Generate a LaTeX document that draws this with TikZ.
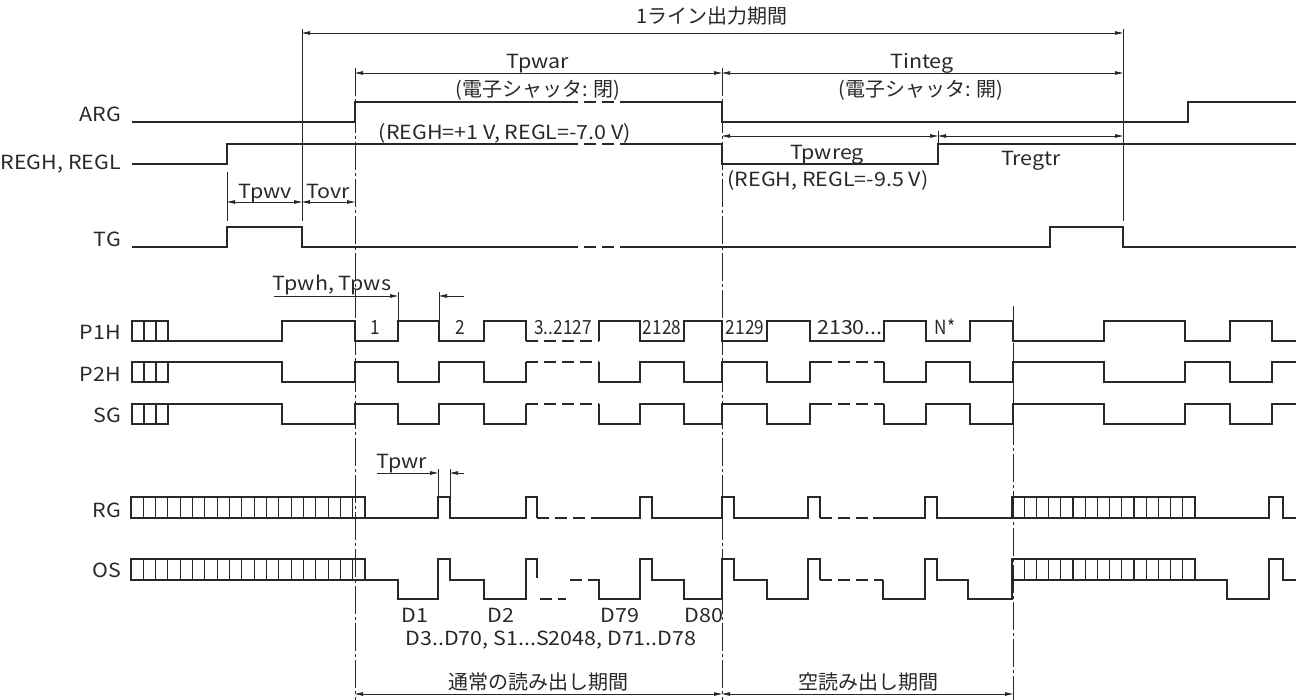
\documentclass[tikz,border=0pt]{standalone}
\usepackage{fontspec}
\setmainfont[FakeStretch=1.1]{Noto Sans CJK JP}
\newfontfamily\jpfont{Noto Sans CJK JP}
\newfontfamily\numfont[FakeStretch=0.88]{Noto Sans CJK JP}
\usetikzlibrary{arrows.meta}
\definecolor{sigc}{RGB}{40,40,40}
\begin{document}
\begin{tikzpicture}[x=1pt,y=-1pt,
 sig/.style={line width=1.4pt,draw=sigc,line join=miter},
 dsig/.style={line width=1.4pt,draw=sigc,dash pattern=on 12pt off 6pt},
 ddot/.style={line width=0.8pt,draw=sigc,dash pattern=on 28pt off 3pt on 3pt off 3pt},
 vl/.style={line width=0.8pt,draw=sigc},
 cell/.style={line width=1.1pt,draw=sigc},
 dim/.style={line width=0.8pt,draw=sigc,{Triangle[length=8pt,width=3.5pt]}-{Triangle[length=8pt,width=3.5pt]}},
 rdim/.style={line width=0.8pt,draw=sigc,-{Triangle[length=8pt,width=3.5pt]}},
 lbl/.style={inner sep=0pt,anchor=base,font=\fontsize{19.5}{23}\selectfont,text=sigc},
 nlbl/.style={inner sep=0pt,anchor=base,font=\numfont\fontsize{19.5}{23}\selectfont,text=sigc},
 jlbl/.style={inner sep=0pt,anchor=base,font=\jpfont\fontsize{20}{24}\selectfont,text=sigc},
 ylab/.style={lbl,anchor=base east}]
\useasboundingbox (0,0) rectangle (1296,700);

% ---------- reference lines ----------
\draw[vl] (302,29) -- (302,221);
\draw[vl] (1123,29) -- (1123,221);
\draw[vl] (227,172) -- (227,221);
\draw[vl] (938,131) -- (938,144);
\draw[ddot] (355,68) -- (355,700);
\draw[ddot] (722,68) -- (722,700);
\draw[ddot] (1013,306) -- (1013,700);
\draw[vl] (398,292) -- (398,321);
\draw[vl] (439,292) -- (439,321);
\draw[vl] (438,469) -- (438,497);
\draw[vl] (450,469) -- (450,497);

% ---------- dimension arrows ----------
\draw[dim] (302,33) -- (1123,33);
\draw[dim] (355,73) -- (722,73);
\draw[dim] (722,73) -- (1123,73);
\draw[dim] (722,136) -- (938,136);
\draw[dim] (938,136) -- (1123,136);
\draw[dim] (227,202) -- (302,202);
\draw[dim] (302,202) -- (355,202);
\draw[rdim] (274,296) -- (398,296);
\draw[rdim] (464,296) -- (439,296);
\draw[rdim] (377,473) -- (438,473);
\draw[rdim] (464,473) -- (450,473);
\draw[dim] (355,694) -- (722,694);
\draw[dim] (722,694) -- (1013,694);

% ---------- ARG ----------
\draw[sig] (132,122) -- (355,122) -- (355,102) -- (566,102);
\draw[dsig] (566,102) -- (620,102);
\draw[sig] (620,102) -- (722,102) -- (722,122) -- (1188,122) -- (1188,102) -- (1296,102);
% ---------- REGH ----------
\draw[sig] (132,164) -- (227,164) -- (227,144) -- (566,144);
\draw[dsig] (566,144) -- (620,144);
\draw[sig] (620,144) -- (722,144) -- (722,164) -- (938,164) -- (938,144) -- (1296,144);
% ---------- TG ----------
\draw[sig] (132,247) -- (227,247) -- (227,227) -- (302,227) -- (302,247) -- (566,247);
\draw[dsig] (566,247) -- (620,247);
\draw[sig] (620,247) -- (1050,247) -- (1050,227) -- (1123,227) -- (1123,247) -- (1296,247);

% ---------- P1H ----------
\draw[sig] (132,321) rectangle (168,341);
\draw[cell] (144,321) -- (144,341) (156,321) -- (156,341);
\draw[sig] (168,341) -- (282,341) -- (282,321) -- (355,321) -- (355,341) -- (398,341) -- (398,321) -- (439,321) -- (439,341) -- (484,341) -- (484,321) -- (526,321) -- (526,341);
\draw[dsig] (526,341) -- (599,341);
\draw[sig] (599,341) -- (599,321) -- (640,321) -- (640,341) -- (684,341) -- (684,321) -- (722,321) -- (722,341) -- (767,341) -- (767,321) -- (810,321) -- (810,341) -- (884,341) -- (884,321) -- (926,321) -- (926,341) -- (970,341) -- (970,321) -- (1013,321) -- (1013,341) -- (1104,341) -- (1104,321) -- (1185,321) -- (1185,341) -- (1230,341) -- (1230,321) -- (1272,321) -- (1272,341) -- (1296,341);

% ---------- P2H and SG ----------
\foreach \h/\l in {362/382,404/424}{
\draw[sig] (132,\h) rectangle (168,\l);
\draw[cell] (144,\h) -- (144,\l) (156,\h) -- (156,\l);
\draw[sig] (168,\h) -- (282,\h) -- (282,\l) -- (355,\l) -- (355,\h) -- (398,\h) -- (398,\l) -- (439,\l) -- (439,\h) -- (484,\h) -- (484,\l) -- (526,\l) -- (526,\h);
\draw[dsig] (526,\h) -- (599,\h);
\draw[sig] (599,\h) -- (599,\l) -- (640,\l) -- (640,\h) -- (684,\h) -- (684,\l) -- (722,\l) -- (722,\h) -- (767,\h) -- (767,\l) -- (810,\l) -- (810,\h) -- (820,\h);
\draw[dsig] (820,\h) -- (884,\h);
\draw[sig] (884,\h) -- (884,\l) -- (926,\l) -- (926,\h) -- (970,\h) -- (970,\l) -- (1013,\l) -- (1013,\h) -- (1104,\h) -- (1104,\l) -- (1185,\l) -- (1185,\h) -- (1230,\h) -- (1230,\l) -- (1272,\l) -- (1272,\h) -- (1296,\h);
}

% ---------- RG ----------
\draw[sig] (131,497) rectangle (365,518);
\foreach \i in {1,...,18} \draw[cell] ({131+\i*12.316},497) -- ++(0,21);
\draw[sig] (365,518) -- (438,518) -- (438,497) -- (450,497) -- (450,518) -- (526,518) -- (526,497) -- (537,497) -- (537,518);
\draw[dsig] (537,518) -- (595,518);
\draw[sig] (595,518) -- (640,518) -- (640,497) -- (652,497) -- (652,518) -- (722,518) -- (722,497) -- (734,497) -- (734,518) -- (808,518) -- (808,497) -- (820,497) -- (820,518);
\draw[dsig] (820,518) -- (873,518);
\draw[sig] (873,518) -- (925,518) -- (925,497) -- (937,497) -- (937,518) -- (1012,518);
\draw[sig] (1012,497) rectangle (1195,518);
\foreach \i in {1,...,14} \draw[cell] ({1012+\i*12.2},497) -- ++(0,21);
\draw[sig] (1195,518) -- (1269,518) -- (1269,497) -- (1283,497) -- (1283,518) -- (1296,518);

% ---------- OS ----------
\draw[sig] (131,559) rectangle (365,580);
\foreach \i in {1,...,18} \draw[cell] ({131+\i*12.316},559) -- ++(0,21);
\draw[sig] (365,580) -- (398,580) -- (398,599) -- (438,599) -- (438,559) -- (450,559) -- (450,580) -- (484,580) -- (484,599) -- (526,599) -- (526,559) -- (537,559) -- (537,578);
\draw[dsig] (540,599) -- (566,599);
\draw[dsig] (570,580) -- (590,580);
\draw[sig] (588,580) -- (599,580) -- (599,599) -- (640,599) -- (640,559) -- (652,559) -- (652,580) -- (684,580) -- (684,599) -- (722,599) -- (722,559) -- (734,559) -- (734,580) -- (767,580) -- (767,599) -- (808,599) -- (808,559) -- (820,559) -- (820,580);
\draw[dsig] (820,580) -- (883,580);
\draw[sig] (883,580) -- (883,599) -- (925,599) -- (925,559) -- (937,559) -- (937,580) -- (968,580) -- (968,599) -- (1012,599) -- (1012,580);
\draw[sig] (1012,559) rectangle (1195,580);
\foreach \i in {1,...,14} \draw[cell] ({1012+\i*12.2},559) -- ++(0,21);
\draw[sig] (1195,580) -- (1227,580) -- (1227,599) -- (1269,599) -- (1269,559) -- (1283,559) -- (1283,580) -- (1296,580);

% ---------- labels ----------
\node[jlbl] (tline) at (712,24) {1ライン出力期間};
\node[lbl] (tpwar) at (538,69) {Tpwar};
\node[jlbl] (shut1) at (538,97) {(電子シャッタ: 閉)};
\node[lbl] (tinteg) at (922,69) {Tinteg};
\node[jlbl] (shut2) at (921,97) {(電子シャッタ: 開)};
\node[ylab] (larg) at (121,122) {ARG};
\node[ylab] (lregh) at (121,170) {REGH, REGL};
\node[lbl] (v1) at (505,140) {(REGH=+1 V, REGL=-7.0 V)};
\node[lbl] (tpwreg) at (827,160) {Tpwreg};
\node[lbl] (v2) at (828,187) {(REGH, REGL=-9.5 V)};
\node[lbl] (tregtr) at (1031,166) {Tregtr};
\node[lbl] (tpwv) at (265,199) {Tpwv};
\node[lbl] (tovr) at (328,199) {Tovr};
\node[ylab] (ltg) at (121,247) {TG};
\node[lbl] (tpwh) at (332,291) {Tpwh, Tpws};
\node[ylab] (lp1h) at (121,340) {P1H};
\node[ylab] (lp2h) at (121,382) {P2H};
\node[ylab] (lsg) at (121,423) {SG};
\node[nlbl] (n1) at (375,335) {1};
\node[nlbl] (n2) at (460,335) {2};
\node[nlbl] (n3) at (563,335) {3..2127};
\node[nlbl] (n4) at (662,335) {2128};
\node[nlbl] (n5) at (745,335) {2129};
\node[lbl] (n6) at (850,335) {2130...};
\node[nlbl] (n7) at (945,335) {N*};
\node[lbl] (tpwr) at (402,468) {Tpwr};
\node[ylab] (lrg) at (121,517) {RG};
\node[ylab] (los) at (121,577) {OS};
\node[lbl] (d1) at (415,622) {D1};
\node[lbl] (d2) at (501,622) {D2};
\node[lbl] (d79) at (620,622) {D79};
\node[lbl] (d80) at (704,622) {D80};
\node[lbl] (dall) at (551,645) {D3..D70, S1...S2048, D71..D78};
\node[jlbl] (read1) at (538,689) {通常の読み出し期間};
\node[jlbl] (read2) at (868,689) {空読み出し期間};
\end{tikzpicture}
\end{document}
